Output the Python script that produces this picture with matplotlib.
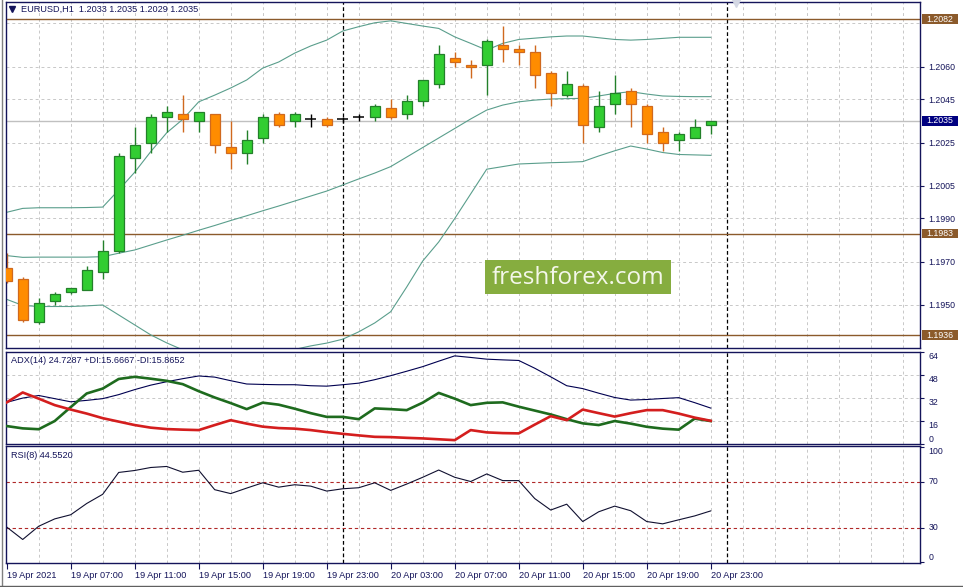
import matplotlib
matplotlib.use('Agg')
import matplotlib.pyplot as plt
import matplotlib.transforms as mtransforms
from matplotlib.patches import Rectangle
from matplotlib.lines import Line2D
import numpy as np

plt.rcParams['font.family'] = ['Liberation Sans', 'DejaVu Sans']

# ---- data (H1 bars, 19 Apr 03:00 -> 20 Apr 23:00) ----
symbol_title = 'EURUSD,H1  1.2033 1.2035 1.2029 1.2035'
adx_title = 'ADX(14) 24.7287 +DI:15.6667 -DI:15.8652'
rsi_title = 'RSI(8) 44.5520'

opens = [1.1967, 1.1962, 1.1942, 1.1952, 1.1956, 1.1957, 1.1965, 1.1975, 1.2018, 1.2025,
         1.2037, 1.2038, 1.2035, 1.2038, 1.2023, 1.2020, 1.2027, 1.2038, 1.2035, 1.2036,
         1.2036, 1.2036, 1.2037, 1.2037, 1.2041, 1.2038, 1.2044, 1.2052, 1.2064, 1.2061,
         1.2061, 1.2070, 1.2068, 1.2067, 1.2057, 1.2047, 1.2051, 1.2032, 1.2043, 1.2049,
         1.2042, 1.2030, 1.2026, 1.2027, 1.2033]
highs = [1.1974, 1.1963, 1.1953, 1.1956, 1.1958, 1.1968, 1.1980, 1.2020, 1.2032, 1.2038,
         1.2042, 1.2047, 1.2039, 1.2038, 1.2035, 1.2031, 1.2038, 1.2039, 1.2039, 1.2038,
         1.2037, 1.2037, 1.2038, 1.2043, 1.2045, 1.2047, 1.2054, 1.2070, 1.2067, 1.2063,
         1.2073, 1.2079, 1.2070, 1.2070, 1.2058, 1.2058, 1.2052, 1.2049, 1.2056, 1.2050,
         1.2043, 1.2032, 1.2030, 1.2036, 1.2035]
lows = [1.1960, 1.1942, 1.1941, 1.1950, 1.1955, 1.1957, 1.1962, 1.1974, 1.2011, 1.2020,
        1.2030, 1.2030, 1.2030, 1.2020, 1.2013, 1.2015, 1.2025, 1.2032, 1.2032, 1.2032,
        1.2032, 1.2034, 1.2035, 1.2035, 1.2036, 1.2036, 1.2042, 1.2050, 1.2060, 1.2055,
        1.2047, 1.2062, 1.2061, 1.2050, 1.2042, 1.2046, 1.2025, 1.2030, 1.2038, 1.2032,
        1.2025, 1.2021, 1.2021, 1.2027, 1.2029]
closes = [1.1961, 1.1943, 1.1951, 1.1955, 1.1958, 1.1966, 1.1975, 1.2019, 1.2024, 1.2037,
          1.2039, 1.2036, 1.2039, 1.2024, 1.2020, 1.2026, 1.2037, 1.2033, 1.2038, 1.2036,
          1.2033, 1.2036, 1.2037, 1.2042, 1.2037, 1.2044, 1.2054, 1.2066, 1.2062, 1.2060,
          1.2072, 1.2068, 1.2067, 1.2056, 1.2048, 1.2052, 1.2033, 1.2042, 1.2048, 1.2043,
          1.2029, 1.2025, 1.2029, 1.2032, 1.2035]

bb_upper = [1.19928, 1.19946, 1.19949, 1.19949, 1.19949, 1.19950, 1.19952, 1.20031, 1.20113, 1.20208,
            1.20295, 1.20357, 1.20438, 1.20469, 1.20502, 1.20539, 1.20594, 1.20622, 1.20663, 1.20696,
            1.20723, 1.20765, 1.20785, 1.20803, 1.20812, 1.20800, 1.20788, 1.20777, 1.20738, 1.20708,
            1.20677, 1.20708, 1.20726, 1.20732, 1.20738, 1.20742, 1.20742, 1.20734, 1.20726, 1.20723,
            1.20726, 1.20731, 1.20736, 1.20736, 1.20736]
bb_middle = [1.19728, 1.19720, 1.19721, 1.19721, 1.19721, 1.19721, 1.19723, 1.19739, 1.19754, 1.19777,
             1.19800, 1.19822, 1.19845, 1.19867, 1.19890, 1.19912, 1.19935, 1.19957, 1.19980, 1.20003,
             1.20026, 1.20054, 1.20082, 1.20109, 1.20139, 1.20183, 1.20227, 1.20271, 1.20315, 1.20359,
             1.20400, 1.20423, 1.20438, 1.20446, 1.20451, 1.20453, 1.20454, 1.20465, 1.20477, 1.20485,
             1.20474, 1.20465, 1.20463, 1.20462, 1.20462]
bb_lower = [1.19526, 1.19498, 1.19493, 1.19493, 1.19493, 1.19496, 1.19500, 1.19454, 1.19408, 1.19362,
            1.19325, 1.19293, 1.19274, 1.19265, 1.19260, 1.19260, 1.19265, 1.19274, 1.19295, 1.19311,
            1.19324, 1.19342, 1.19376, 1.19417, 1.19469, 1.19583, 1.19703, 1.19791, 1.19899, 1.20013,
            1.20127, 1.20139, 1.20151, 1.20154, 1.20157, 1.20159, 1.20162, 1.20188, 1.20212, 1.20234,
            1.20220, 1.20204, 1.20195, 1.20193, 1.20191]

adx = [28.7, 31.7, 33.5, 31.3, 29.1, 30.1, 31.3, 34.1, 37.6, 40.7, 43.1, 45.2, 47.1, 46.3, 43.8,
       41.5, 41.2, 41.0, 41.0, 40.3, 40.0, 41.0, 42.1, 44.5, 47.3, 50.4, 53.6, 57.4, 61.1, 60.0,
       58.8, 58.3, 57.9, 52.5, 46.5, 40.3, 38.3, 35.1, 32.1, 30.3, 30.7, 31.4, 32.0, 28.5, 24.73]
plus_di = [12.2, 10.6, 10.0, 15.7, 25.4, 34.9, 38.3, 45.0, 46.5, 45.2, 43.7, 41.4, 36.5, 32.1, 28.2,
           24.0, 28.5, 27.1, 24.3, 21.2, 18.6, 18.6, 17.0, 24.5, 24.0, 23.3, 28.5, 35.3, 31.3, 26.8,
           28.4, 28.7, 25.7, 23.0, 20.3, 17.0, 14.1, 12.9, 15.7, 13.9, 11.7, 10.4, 9.7, 17.4, 15.67]
minus_di = [28.7, 35.6, 31.3, 26.8, 23.7, 20.9, 17.7, 15.3, 12.9, 11.1, 10.1, 9.7, 9.4, 12.9, 16.3,
            13.9, 11.8, 10.8, 10.4, 9.4, 8.0, 6.8, 5.7, 4.7, 4.5, 4.0, 3.6, 3.0, 2.4, 9.4,
            7.8, 7.3, 7.1, 13.2, 19.1, 16.3, 23.7, 21.2, 18.8, 21.2, 23.3, 23.3, 20.9, 18.1, 15.87]
rsi = [30.5, 19.7, 31.2, 37.6, 41.2, 51.0, 59.0, 78.0, 79.7, 82.3, 83.2, 78.2, 79.9, 63.0, 59.6,
       64.4, 69.0, 65.2, 67.3, 66.1, 61.8, 63.8, 64.7, 69.0, 62.4, 67.9, 73.8, 80.1, 73.8, 70.1,
       76.7, 70.9, 70.9, 55.3, 45.3, 50.4, 35.3, 43.8, 48.7, 44.7, 35.3, 33.3, 36.8, 40.2, 44.55]

x_labels = ['19 Apr 2021', '19 Apr 07:00', '19 Apr 11:00', '19 Apr 15:00', '19 Apr 19:00',
            '19 Apr 23:00', '20 Apr 03:00', '20 Apr 07:00', '20 Apr 11:00', '20 Apr 15:00',
            '20 Apr 19:00', '20 Apr 23:00']
x_label_pos = [0, 4, 8, 12, 16, 20, 24, 28, 32, 36, 40, 44]
day_breaks = [21, 45]
grid_prices = [1.2080, 1.2060, 1.2045, 1.2025, 1.2005, 1.1990, 1.1970, 1.1950]
price_ticks = [1.2060, 1.2045, 1.2025, 1.2005, 1.1990, 1.1970, 1.1950]
level_lines = [1.2082, 1.1983, 1.1936]
last_price = 1.2035
adx_ticks = [64, 48, 32, 16, 0]
rsi_ticks = [100, 70, 30, 0]
rsi_levels = [70, 30]

# ---- colours ----
NAVY = '#14145a'
GRID = '#c8c8c8'
BROWN = '#8b5a2b'
UP_FILL, UP_EDGE = '#32cd32', '#23802a'
DN_FILL, DN_EDGE = '#ff8c00', '#d0691e'
BAND = '#5a9e8c'

W, H = 963, 587
fig = plt.figure(figsize=(W / 100, H / 100), dpi=100)


def rect(x0, y0, x1, y1):
    return [x0 / W, 1 - y1 / H, (x1 - x0) / W, (y1 - y0) / H]


ax = fig.add_axes(rect(5.5, 2, 920, 348.3))
ax_adx = fig.add_axes(rect(5.5, 351.7, 920, 444.3))
ax_rsi = fig.add_axes(rect(5.5, 446, 920, 562.7))

XMIN, XMAX = -0.075, 57.08
for a in (ax, ax_adx, ax_rsi):
    a.set_xlim(XMIN, XMAX)
    for s in a.spines.values():
        s.set_color(NAVY)
        s.set_linewidth(1)
    a.yaxis.tick_right()
    a.tick_params(axis='y', direction='out', length=3, width=0.8, color=NAVY,
                  labelcolor=NAVY, labelsize=6.3, pad=3)
    a.tick_params(axis='x', bottom=False, labelbottom=False)
    for i in range(2, 58, 2):
        a.axvline(i, color=GRID, ls=(0, (3, 3)), lw=0.7, zorder=0)
    for d in day_breaks:
        a.axvline(d, color='black', ls=(0, (3, 2)), lw=0.9, zorder=1)

# ---- main price panel ----
o, h, l, c = map(np.array, (opens, highs, lows, closes))
idx = np.arange(len(o))
up, dn, dj = c > o, c < o, c == o

ax.set_ylim(1.19300, 1.20899)
ax.set_yticks(price_ticks)
ax.set_yticklabels([f'{p:.4f}' for p in price_ticks])
for p in grid_prices:
    ax.axhline(p, color=GRID, ls=(0, (3, 3)), lw=0.7, zorder=0)
ax.axhline(last_price, color='#c0c0c0', lw=1, zorder=0.5)
for p in level_lines:
    ax.axhline(p, color=BROWN, lw=1, zorder=1)

ax.plot(idx, bb_upper, color=BAND, lw=0.8, zorder=1.5)
ax.plot(idx, bb_middle, color=BAND, lw=0.8, zorder=1.5)
ax.plot(idx, bb_lower, color=BAND, lw=0.8, zorder=1.5)

ax.vlines(idx[up], l[up], h[up], color=UP_EDGE, lw=1, zorder=2)
ax.vlines(idx[dn], l[dn], h[dn], color=DN_EDGE, lw=1, zorder=2)
ax.vlines(idx[dj], l[dj], h[dj], color='black', lw=1, zorder=2)
ax.bar(idx[up], c[up] - o[up], bottom=o[up], width=0.625, color=UP_FILL,
       edgecolor=UP_EDGE, lw=0.9, zorder=3)
ax.bar(idx[dn], c[dn] - o[dn], bottom=o[dn], width=0.625, color=DN_FILL,
       edgecolor=DN_EDGE, lw=0.9, zorder=3)
ax.hlines(c[dj], idx[dj] - 0.34, idx[dj] + 0.34, color='black', lw=1.1, zorder=3)

# price boxes on the right scale
trans = mtransforms.blended_transform_factory(ax.transAxes, ax.transData)
box_w, box_h = 36.5 / 914.5, 0.00046
for p, col in [(level_lines[0], BROWN), (level_lines[1], BROWN), (level_lines[2], BROWN),
               (last_price, '#000080')]:
    ax.add_patch(Rectangle((1.0018, p - box_h / 2), box_w, box_h, transform=trans,
                           fc=col, ec='none', clip_on=False, zorder=6))
    ax.text(1.0018 + box_w / 2, p, f'{p:.4f}', transform=trans, ha='center', va='center',
            color='white', fontsize=6.3, zorder=7, clip_on=False)

# header
ax.plot([0.0072], [0.980], marker='v', ms=4, color=NAVY, transform=ax.transAxes,
        clip_on=False, zorder=6)
ax.text(0.0166, 0.980, symbol_title, transform=ax.transAxes, ha='left', va='center',
        fontsize=6.6, color=NAVY, zorder=6)

# watermark
ax.add_patch(Rectangle((0.5243, 0.1568), 0.2031, 0.0982, transform=ax.transAxes,
                       fc='#86ad3f', ec='none', zorder=5))
ax.text(0.6258, 0.203, 'freshforex.com', transform=ax.transAxes, ha='center', va='center',
        fontsize=17.5, family=['Open Sans', 'DejaVu Sans'], color='#f4f7ea', zorder=6)

# ---- ADX panel ----
ax_adx.set_ylim(-0.5, 64)
ax_adx.set_yticks(adx_ticks)
ax_adx.set_yticklabels([str(t) for t in adx_ticks])
for t, va in zip(ax_adx.get_yticklabels(), ['top', 'top', 'top', 'top', 'bottom']):
    t.set_verticalalignment(va)
for t in [16, 32, 48]:
    ax_adx.axhline(t, color=GRID, ls=(0, (3, 3)), lw=0.7, zorder=0)
ax_adx.plot(idx, adx, color='#000050', lw=0.8, zorder=2)
ax_adx.plot(idx, plus_di, color='#1e6b1e', lw=1.9, zorder=3)
ax_adx.plot(idx, minus_di, color='#d41e1e', lw=1.9, zorder=3)
ax_adx.text(0.006, 0.91, adx_title, transform=ax_adx.transAxes, ha='left', va='center',
            fontsize=6.6, color=NAVY)

# ---- RSI panel ----
ax_rsi.set_ylim(-0.5, 101)
ax_rsi.set_yticks(rsi_ticks)
ax_rsi.set_yticklabels([str(t) for t in rsi_ticks])
for t, va in zip(ax_rsi.get_yticklabels(), ['top', 'center', 'center', 'bottom']):
    t.set_verticalalignment(va)
for lv in rsi_levels:
    ax_rsi.axhline(lv, color='#b02828', ls=(0, (3, 2.5)), lw=0.8, zorder=1)
ax_rsi.plot(idx, rsi, color='#101030', lw=0.8, zorder=2)
ax_rsi.text(0.006, 0.917, rsi_title, transform=ax_rsi.transAxes, ha='left', va='center',
            fontsize=6.6, color=NAVY)

ax_rsi.set_xticks(x_label_pos)
ax_rsi.set_xticklabels(x_labels)
ax_rsi.tick_params(axis='x', bottom=True, labelbottom=True, direction='out', length=4,
                   width=0.8, color=NAVY, labelcolor=NAVY, labelsize=6.6, pad=2)
for t in ax_rsi.get_xticklabels():
    t.set_horizontalalignment('left')

# window frame bits
fig.add_artist(Line2D([2 / W, 2 / W], [0, 1], transform=fig.transFigure, color='#808080', lw=1))
fig.add_artist(Line2D([0, 1], [1 - 585.5 / H, 1 - 585.5 / H], transform=fig.transFigure,
                      color='#606060', lw=1))
fig.add_artist(Line2D([736 / W], [1 - 3 / H], transform=fig.transFigure, marker='v', ms=6,
                      color='#d4d8e4', lw=0))

fig.savefig('out.png', dpi=100, facecolor='white')
